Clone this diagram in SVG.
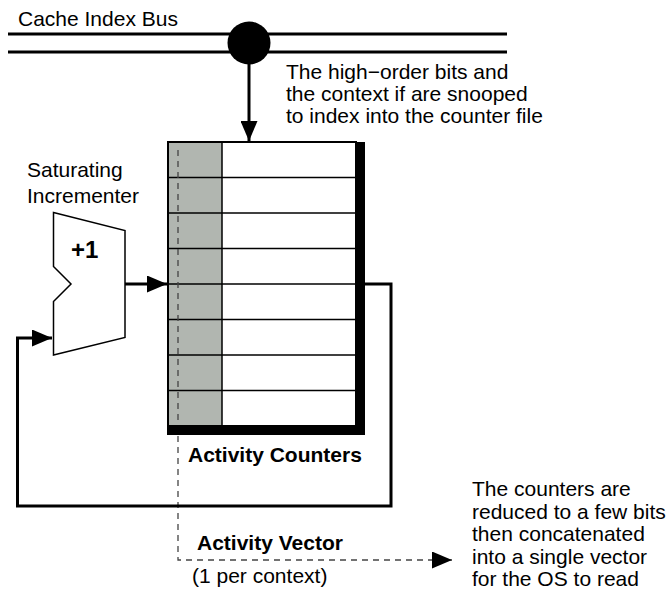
<svg xmlns="http://www.w3.org/2000/svg" width="671" height="596" viewBox="0 0 671 596">
<defs>
<style>
text{font-family:"Liberation Sans",Arial,sans-serif;font-size:21px;fill:#000}
.b{font-weight:bold}
.w{fill:none;stroke:#000;stroke-width:3}
</style>
<marker id="ah" markerWidth="20" markerHeight="17" refX="20" refY="8.5" orient="auto" markerUnits="userSpaceOnUse">
<path d="M0,0 L20,8.5 L0,17 Z" fill="#000"/>
</marker>
</defs>
<rect width="671" height="596" fill="#fff"/>
<g id="bus">
<line class="w" x1="8" y1="34" x2="507" y2="34"/>
<line class="w" x1="8" y1="52" x2="507" y2="52"/>
<circle cx="249" cy="43" r="21.5" fill="#000"/>
<text x="18" y="26">Cache Index Bus</text>
</g>
<g id="note-top">
<text x="286" y="79">The high−order bits and</text>
<text x="286" y="101">the context if are snooped</text>
<text x="286" y="123">to index into the counter file</text>
</g>
<g id="counters">
<rect x="168" y="142" width="54" height="284" fill="#b1b6b0"/>
<rect x="222" y="142" width="134" height="284" fill="#fff"/>
<g stroke="#000" stroke-width="1.5">
<line x1="168" y1="177.5" x2="356" y2="177.5"/>
<line x1="168" y1="213" x2="356" y2="213"/>
<line x1="168" y1="248.5" x2="356" y2="248.5"/>
<line x1="168" y1="284" x2="356" y2="284"/>
<line x1="168" y1="319.5" x2="356" y2="319.5"/>
<line x1="168" y1="355" x2="356" y2="355"/>
<line x1="168" y1="390.5" x2="356" y2="390.5"/>
<line x1="222" y1="142" x2="222" y2="426"/>
</g>
<rect x="168" y="142" width="188" height="284" fill="none" stroke="#000" stroke-width="2"/>
<path d="M178,150 V560 H452" fill="none" stroke="#444" stroke-width="1.3" stroke-dasharray="6,5" marker-end="url(#ah)"/>
<rect x="355" y="142" width="10" height="293" fill="#000"/>
<rect x="167" y="425" width="198" height="10" fill="#000"/>
<text class="b" x="188" y="462">Activity Counters</text>
</g>
<g id="incrementer">
<path d="M53.5,212.5 L125,230.5 L125,337.5 L53.5,355 L53.5,301.5 L71,284 L53.5,266.5 Z" fill="#fff" stroke="#000" stroke-width="1.5"/>
<text class="b" x="71" y="258" style="font-size:24px">+1</text>
<text x="27" y="177">Saturating</text>
<text x="27" y="203">Incrementer</text>
</g>
<g id="connectors">
<line class="w" x1="249" y1="60" x2="249" y2="141" marker-end="url(#ah)"/>
<line class="w" x1="125" y1="284" x2="167" y2="284" marker-end="url(#ah)"/>
<path class="w" d="M365,284 H391 V506 H17.5 V338 H52" marker-end="url(#ah)"/>
</g>
<g id="vector">
<text class="b" x="197" y="550">Activity Vector</text>
<text x="192" y="583">(1 per context)</text>
</g>
<g id="note-bottom">
<text x="472" y="496">The counters are</text>
<text x="472" y="518.5">reduced to a few bits</text>
<text x="472" y="541">then concatenated</text>
<text x="472" y="563.5">into a single vector</text>
<text x="472" y="586">for the OS to read</text>
</g>
</svg>
